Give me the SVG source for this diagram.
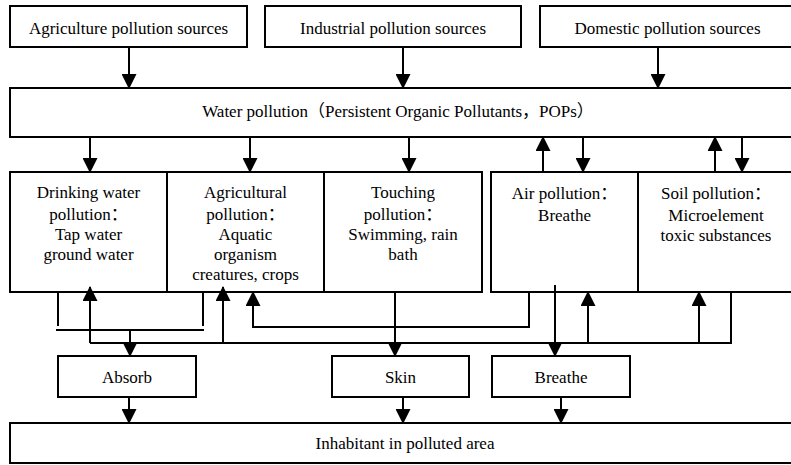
<svg xmlns="http://www.w3.org/2000/svg" width="791" height="465" viewBox="0 0 791 465">
<style>
.box{fill:#fff;stroke:#000;stroke-width:2}
.t{font-family:'Liberation Serif','Times New Roman',Tinos,'DejaVu Serif',serif;font-size:17px;fill:#000;text-anchor:middle}
.cjk{font-family:'Noto Sans CJK SC','Noto Sans CJK JP',sans-serif}
.c{fill:none;stroke:#000;stroke-width:2}
.a{marker-end:url(#ah)}
</style>
<defs>
<marker id="ah" markerUnits="userSpaceOnUse" markerWidth="15" markerHeight="15" viewBox="0 0 15 15" refX="14" refY="7.5" orient="auto">
<path d="M0,0 L15,7.5 L0,15 z" fill="#000"/>
</marker>
</defs>
<rect width="791" height="465" fill="#fff"/>
<g id="agri-src"><rect class="box" x="10" y="6" width="237" height="41"/><text class="t" x="128.5" y="34">Agriculture pollution sources</text></g>
<g id="ind-src"><rect class="box" x="265" y="6" width="256" height="41"/><text class="t" x="393" y="34">Industrial pollution sources</text></g>
<g id="dom-src"><rect class="box" x="540" y="6" width="260" height="41"/><text class="t" x="667.5" y="34">Domestic pollution sources</text></g>
<g id="water"><rect class="box" x="10" y="88" width="790" height="49"/><text class="t" x="398" y="117">Water pollution<tspan class="cjk">（</tspan>Persistent Organic Pollutants<tspan class="cjk">，</tspan>POPs<tspan class="cjk">）</tspan></text></g>
<g id="drinking"><rect class="box" x="10" y="172" width="157" height="120"/>
<text class="t" x="88.5" y="198">Drinking water</text><text class="t" x="88.5" y="219.5">pollution<tspan class="cjk">：</tspan></text><text class="t" x="88.5" y="240">Tap water</text><text class="t" x="88.5" y="260">ground water</text></g>
<g id="agricultural"><rect class="box" x="167" y="172" width="157" height="120"/>
<text class="t" x="245.5" y="198">Agricultural</text><text class="t" x="245.5" y="219.5">pollution<tspan class="cjk">：</tspan></text><text class="t" x="245.5" y="240">Aquatic</text><text class="t" x="245.5" y="260">organism</text><text class="t" x="245.5" y="280">creatures, crops</text></g>
<g id="touching"><rect class="box" x="324" y="172" width="158" height="120"/>
<text class="t" x="403" y="198">Touching</text><text class="t" x="403" y="219.5">pollution<tspan class="cjk">：</tspan></text><text class="t" x="403" y="240">Swimming, rain</text><text class="t" x="403" y="260">bath</text></g>
<g id="air"><rect class="box" x="491" y="172" width="147" height="120"/>
<text class="t" x="564.5" y="199">Air pollution<tspan class="cjk">：</tspan></text><text class="t" x="564.5" y="220.5">Breathe</text></g>
<g id="soil"><rect class="box" x="638" y="172" width="162" height="120"/>
<text class="t" x="716" y="199">Soil pollution<tspan class="cjk">：</tspan></text><text class="t" x="716" y="220.5">Microelement</text><text class="t" x="716" y="241">toxic substances</text></g>
<g id="absorb"><rect class="box" x="58" y="356" width="138" height="41"/><text class="t" x="127" y="383">Absorb</text></g>
<g id="skin"><rect class="box" x="332" y="356" width="137" height="41"/><text class="t" x="400.5" y="383">Skin</text></g>
<g id="breathe"><rect class="box" x="492" y="356" width="138" height="41"/><text class="t" x="561" y="383">Breathe</text></g>
<g id="inhabitant"><rect class="box" x="10" y="423" width="790" height="40"/><text class="t" x="405" y="449">Inhabitant in polluted area</text></g>
<g id="connectors">
<line class="c a" x1="129" y1="47" x2="129" y2="88"/>
<line class="c a" x1="403" y1="47" x2="403" y2="88"/>
<line class="c a" x1="658" y1="47" x2="658" y2="88"/>
<line class="c a" x1="90" y1="137" x2="90" y2="172"/>
<line class="c a" x1="250" y1="137" x2="250" y2="172"/>
<line class="c a" x1="409" y1="137" x2="409" y2="172"/>
<line class="c a" x1="543" y1="172" x2="543" y2="137"/>
<line class="c a" x1="583" y1="137" x2="583" y2="172"/>
<line class="c a" x1="715" y1="172" x2="715" y2="137"/>
<line class="c a" x1="742" y1="137" x2="742" y2="172"/>
<path class="c" d="M58,292 V326 M203,292 V326 M56,330 H204"/>
<line class="c a" x1="130" y1="330" x2="130" y2="356"/>
<path class="c" d="M90,343 H731 V292"/>
<line class="c a" x1="90" y1="343" x2="90" y2="287"/>
<line class="c a" x1="223" y1="343" x2="223" y2="287"/>
<line class="c a" x1="588" y1="343" x2="588" y2="292"/>
<line class="c a" x1="699" y1="343" x2="699" y2="292"/>
<path class="c a" d="M529,292 V327 H253 V292"/>
<line class="c a" x1="395" y1="292" x2="395" y2="356"/>
<line class="c a" x1="555" y1="285" x2="555" y2="356"/>
<line class="c a" x1="129" y1="397" x2="129" y2="423"/>
<line class="c a" x1="403" y1="397" x2="403" y2="423"/>
<line class="c a" x1="561" y1="397" x2="561" y2="423"/>
</g>
</svg>
